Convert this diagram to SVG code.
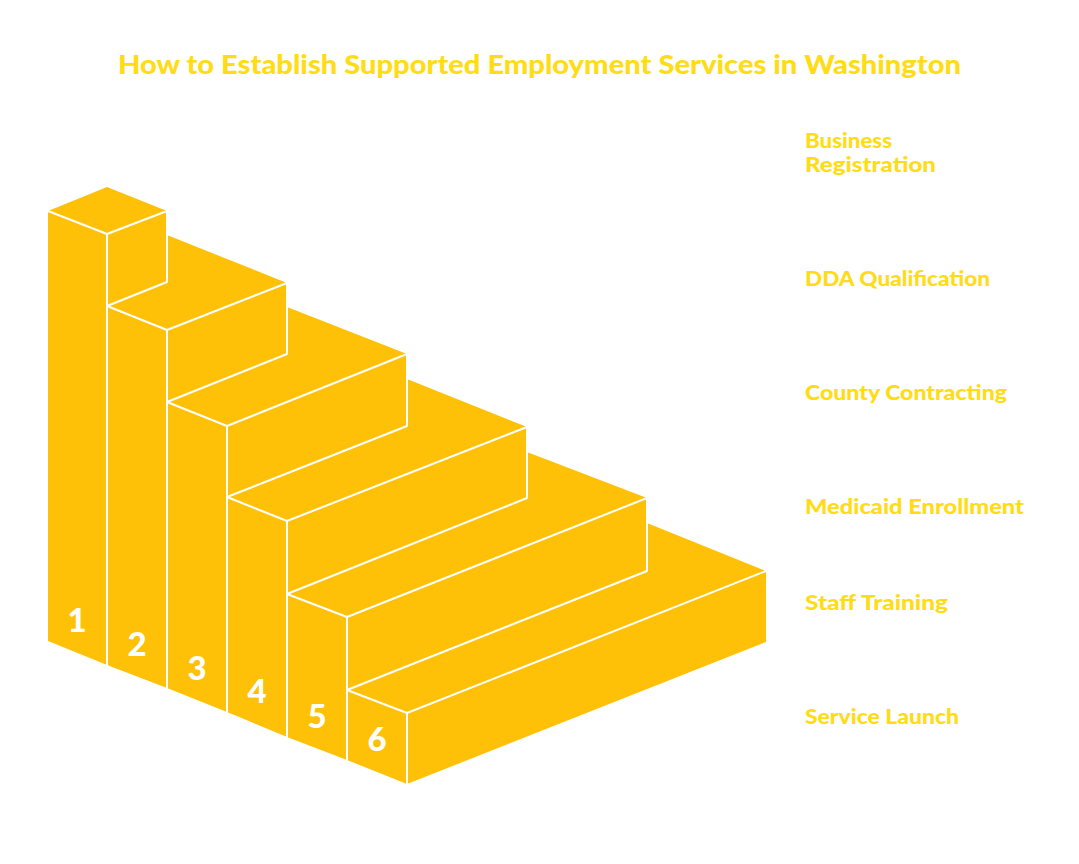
<svg xmlns="http://www.w3.org/2000/svg" width="1079" height="864" viewBox="0 0 1079 864">
<style>
.f{fill:#FFC107}
.l{fill:none;stroke:#FFF;stroke-width:2;stroke-linecap:round;stroke-linejoin:round}
.n{font-family:"Lato","Liberation Sans",sans-serif;font-weight:900;font-size:33px;fill:#FFF;text-anchor:middle}
.h{font-family:"Lato","Liberation Sans",sans-serif;font-weight:900;font-size:20px;fill:#FFDC14}
.t{font-family:"Lato","Liberation Sans",sans-serif;font-weight:900;font-size:27px;fill:#FFDC14}
</style>
<rect width="1079" height="864" fill="#FFF"/>
<text id="title" class="t" x="118" y="74" textLength="843" lengthAdjust="spacingAndGlyphs">How to Establish Supported Employment Services in Washington</text>
<g id="step-6">
<path class="f" d="M347 690L647 571V523L766 571V642L407 784L347 760Z"/>
<path class="l" d="M347 690L407 713L766 571M407 713V784"/>
<text class="n" x="377" y="751">6</text>
</g>
<g id="step-5">
<path class="f" d="M287 594L527 498V452L647 498V571L347 690V760L287 737Z"/>
<path class="l" d="M287 594L347 617L647 498V571L347 690M347 617V760"/>
<text class="n" x="317" y="728">5</text>
</g>
<g id="step-4">
<path class="f" d="M227 497L407 426V379L527 427V498L287 594V737L227 712Z"/>
<path class="l" d="M227 497L287 521L527 427V498L287 594M287 521V737"/>
<text class="n" x="257" y="703">4</text>
</g>
<g id="step-3">
<path class="f" d="M167 402L287 354V307L407 354V426L227 497V712L167 688Z"/>
<path class="l" d="M167 402L227 426L407 354V426L227 497M227 426V712"/>
<text class="n" x="197" y="680">3</text>
</g>
<g id="step-2">
<path class="f" d="M107 306L167 282V235L287 283V354L167 402V688L107 665Z"/>
<path class="l" d="M107 306L167 330L287 283V354L167 402M167 330V688"/>
<text class="n" x="137" y="656">2</text>
</g>
<g id="step-1">
<path class="f" d="M48 211L107 187L167 211V282L107 306V665L48 641Z"/>
<path class="l" d="M48 211L107 234L167 211V282L107 306M107 234V665"/>
<text class="n" x="77" y="632">1</text>
</g>
<g id="label-1"><text class="h" x="805" y="148" textLength="87" lengthAdjust="spacingAndGlyphs">Business</text><text class="h" x="805" y="172" textLength="131" lengthAdjust="spacingAndGlyphs">Registration</text></g>
<g id="label-2"><text class="h" x="805" y="286" textLength="185" lengthAdjust="spacingAndGlyphs">DDA Qualification</text></g>
<g id="label-3"><text class="h" x="805" y="400" textLength="202" lengthAdjust="spacingAndGlyphs">County Contracting</text></g>
<g id="label-4"><text class="h" x="805" y="514" textLength="219" lengthAdjust="spacingAndGlyphs">Medicaid Enrollment</text></g>
<g id="label-5"><text class="h" x="805" y="610" textLength="143" lengthAdjust="spacingAndGlyphs">Staff Training</text></g>
<g id="label-6"><text class="h" x="805" y="724" textLength="154" lengthAdjust="spacingAndGlyphs">Service Launch</text></g>
</svg>
